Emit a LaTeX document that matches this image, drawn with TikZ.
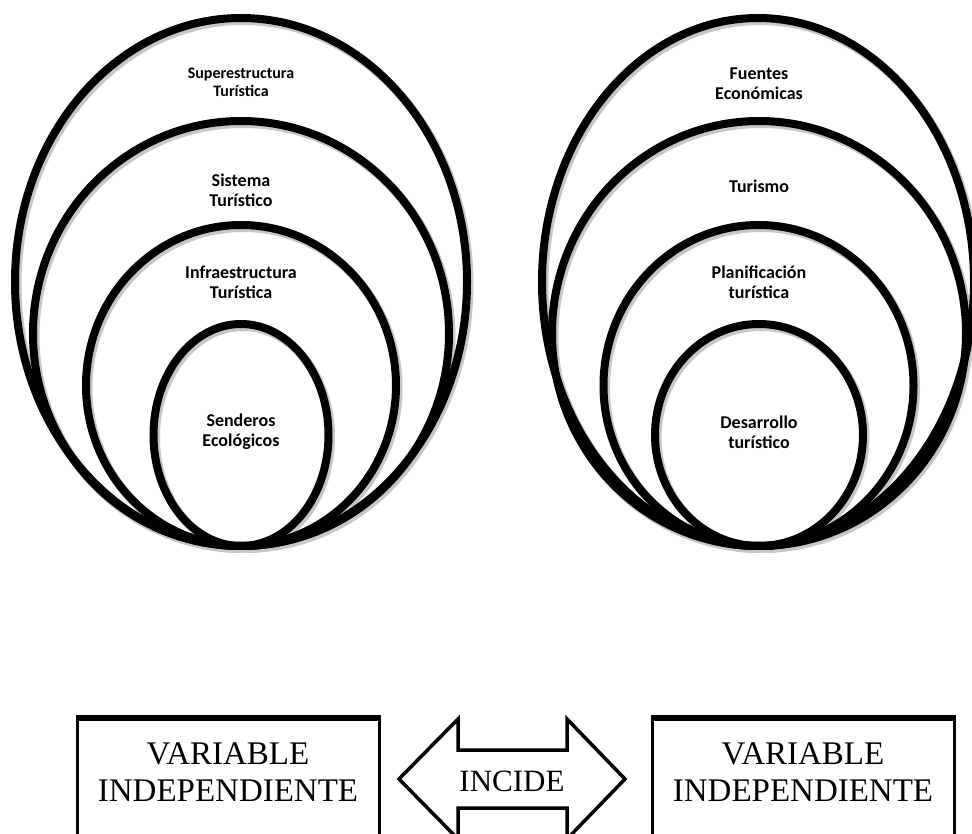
\documentclass[tikz,border=0pt]{standalone}
\usepackage{fontspec}
\newfontfamily\calfont{Carlito}
\newfontfamily\timesfont{Liberation Serif}
\usetikzlibrary{shapes.geometric}
\begin{document}
\begin{tikzpicture}[x=1pt,y=-1pt,
  ring/.style={draw=black, line width=8pt, ellipse, inner sep=0pt},
  ringshadow/.style={draw=black!22, line width=9pt},
  lbl/.style={font=\calfont\bfseries\fontsize{18}{20}\selectfont, align=center, inner sep=0pt},
  lblsmall/.style={font=\calfont\bfseries\fontsize{16}{18}\selectfont, align=center, inner sep=0pt},
  varbox/.style={draw=black, line width=3pt, rectangle, inner sep=0pt, minimum width=302pt, minimum height=200pt},
  vartext/.style={font=\timesfont\fontsize{33}{37}\selectfont, align=center, inner sep=0pt},
  blockarrow/.style={draw=black, line width=3.5pt, line join=miter}]
\useasboundingbox (0,0) rectangle (972,834);
\fill[white] (0,0) rectangle (972,834);
\begin{scope}
\clip (0,0) rectangle (972,834);
% soft shadows of the rings
\begin{scope}[shift={(2,2.5)}]
\draw[ringshadow] (241,282) ellipse [x radius=226, y radius=264];
\draw[ringshadow] (241,333.5) ellipse [x radius=208, y radius=212.5];
\draw[ringshadow] (241,385.5) ellipse [x radius=155, y radius=160.5];
\draw[ringshadow] (241,435) ellipse [x radius=87.5, y radius=111];
\draw[ringshadow] (758,282) ellipse [x radius=216, y radius=264];
\draw[ringshadow] (759,333.5) ellipse [x radius=207, y radius=212.5];
\draw[ringshadow] (758.5,385.5) ellipse [x radius=155, y radius=160.5];
\draw[ringshadow] (759,435) ellipse [x radius=104, y radius=111];
\end{scope}
% left group
\node[ring, minimum width=452pt, minimum height=528pt] (L1) at (241,282) {};
\node[ring, minimum width=416pt, minimum height=425pt] (L2) at (241,333.5) {};
\node[ring, minimum width=310pt, minimum height=321pt] (L3) at (241,385.5) {};
\node[ring, minimum width=175pt, minimum height=222pt] (L4) at (241,435) {};
% right group
\node[ring, minimum width=432pt, minimum height=528pt] (R1) at (758,282) {};
\node[ring, minimum width=414pt, minimum height=425pt] (R2) at (759,333.5) {};
\node[ring, minimum width=310pt, minimum height=321pt] (R3) at (758.5,385.5) {};
\node[ring, minimum width=208pt, minimum height=222pt] (R4) at (759,435) {};
% labels
\node[lblsmall] (tL1) at (241,82) {Superestructura\\Turística};
\node[lbl] (tL2) at (241,190) {Sistema\\Turístico};
\node[lbl] (tL3) at (241,282) {Infraestructura\\Turística};
\node[lbl] (tL4) at (241,432) {Senderos\\Ecológicos};
\node[lbl] (tR1) at (759,84) {Fuentes\\Económicas};
\node[lbl] (tR2) at (759,186) {Turismo};
\node[lbl] (tR3) at (759,282) {Planificación\\turística};
\node[lbl] (tR4) at (759,432) {Desarrollo\\turístico};
% bottom boxes
\node[varbox] (vbL) at (228,819) {};
\node[varbox] (vbR) at (803,819) {};
\draw[line width=4.5pt] (vbL.north west) -- (vbL.north east);
\draw[line width=4.5pt] (vbR.north west) -- (vbR.north east);
\node[vartext] (vtL) at (228,772) {VARIABLE\\INDEPENDIENTE};
\node[vartext] (vtR) at (803,772) {VARIABLE\\INDEPENDIENTE};
% double block arrow
\draw[blockarrow] (399,779) -- (458,719) -- (458,750) -- (567,750) -- (567,719)
  -- (625,779) -- (567,839) -- (567,808) -- (458,808) -- (458,839) -- cycle;
\node[font=\timesfont\fontsize{31}{34}\selectfont, inner sep=0pt] (inc) at (512,781) {INCIDE};
\end{scope}
\end{tikzpicture}
\end{document}
